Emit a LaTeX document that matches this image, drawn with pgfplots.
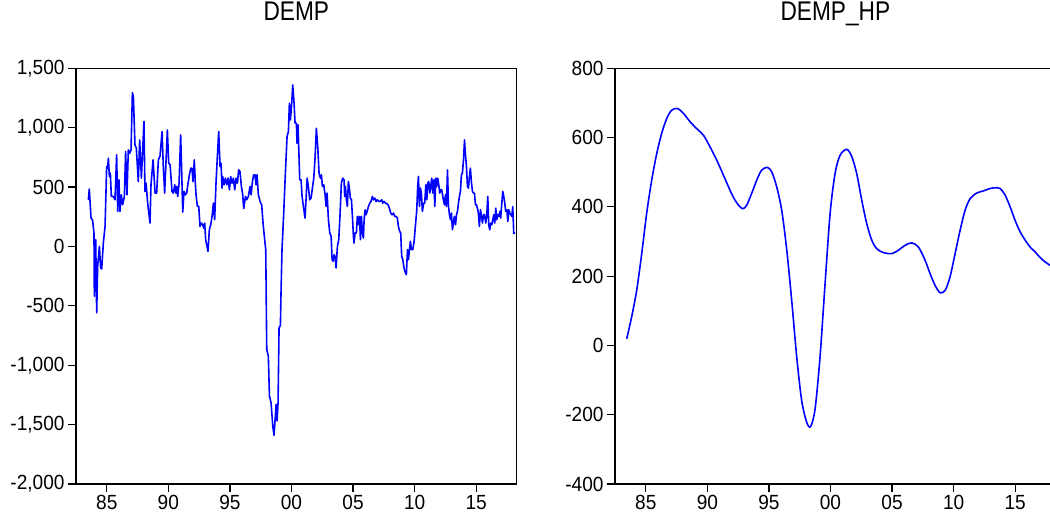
\documentclass[border=0pt]{standalone}
\usepackage{fontspec}
\setmainfont{Liberation Sans}
\newfontfamily\tickfont[FakeStretch=0.93]{Liberation Sans}
\newfontfamily\titlefont[FakeStretch=0.84]{Liberation Sans}
\usepackage{pgfplots}
\pgfplotsset{compat=1.18}
\usepackage{pgfplotstable}

\pgfplotstableread{
t v
1983.50 393
1983.58 483
1983.72 239
1983.85 220
1983.96 113
1983.99 -419
1984.10 57
1984.18 -559
1984.26 -167
1984.40 1
1984.50 -181
1984.59 -189
1984.72 29
1984.86 169
1984.99 673
1985.07 659
1985.13 743
1985.21 589
1985.29 617
1985.37 421
1985.53 421
1985.67 393
1985.80 771
1985.89 295
1985.99 561
1986.07 295
1986.18 435
1986.29 351
1986.43 421
1986.53 799
1986.64 435
1986.75 813
1986.86 785
1986.97 813
1987.08 1295
1987.16 1262
1987.29 855
1987.40 827
1987.56 547
1987.67 897
1987.81 575
1988.02 1052
1988.10 463
1988.19 533
1988.32 365
1988.51 197
1988.59 519
1988.76 729
1988.92 449
1989.05 449
1989.19 729
1989.32 760
1989.49 967
1989.59 673
1989.70 449
1989.92 981
1990.03 701
1990.14 687
1990.30 463
1990.41 449
1990.52 519
1990.62 449
1990.68 505
1990.76 421
1990.87 533
1991.00 939
1991.08 645
1991.17 290
1991.27 463
1991.38 435
1991.49 449
1991.60 533
1991.71 603
1991.82 659
1991.92 659
1992.00 547
1992.11 729
1992.19 533
1992.25 435
1992.36 337
1992.47 337
1992.57 169
1992.68 197
1992.79 183
1992.87 155
1992.95 197
1993.03 57
1993.22 -41
1993.33 141
1993.44 183
1993.55 253
1993.66 365
1993.76 225
1993.87 533
1993.98 757
1994.09 967
1994.20 673
1994.28 701
1994.36 491
1994.41 589
1994.52 519
1994.63 575
1994.74 519
1994.85 575
1994.96 477
1995.06 589
1995.17 533
1995.28 575
1995.39 477
1995.50 575
1995.61 533
1995.71 645
1995.82 631
1995.93 505
1996.04 435
1996.12 320
1996.26 421
1996.36 393
1996.50 421
1996.63 505
1996.72 435
1996.83 547
1996.93 603
1997.04 603
1997.12 519
1997.20 603
1997.31 435
1997.45 379
1997.58 351
1997.69 197
1997.85 29
1997.91 -27
1997.99 -867
1998.12 -923
1998.21 -1259
1998.34 -1315
1998.48 -1511
1998.58 -1590
1998.69 -1427
1998.75 -1329
1998.83 -1469
1998.91 -1315
1998.99 -685
1999.10 -665
1999.15 -391
1999.23 -27
1999.37 281
1999.48 561
1999.64 925
1999.75 967
1999.83 1206
1999.91 1066
2000.02 1206
2000.10 1360
2000.21 1206
2000.29 1038
2000.40 1038
2000.45 869
2000.53 1024
2000.62 729
2000.67 561
2000.78 561
2000.86 421
2000.97 337
2001.10 239
2001.18 393
2001.27 575
2001.37 505
2001.48 393
2001.59 407
2001.70 491
2001.81 575
2001.92 757
2002.02 995
2002.13 841
2002.24 617
2002.35 575
2002.43 603
2002.51 505
2002.62 519
2002.73 435
2002.81 337
2002.89 449
2003.00 225
2003.11 113
2003.22 85
2003.30 -111
2003.38 -125
2003.46 -69
2003.54 -83
2003.62 -181
2003.73 1
2003.84 57
2003.95 281
2004.05 533
2004.16 575
2004.27 561
2004.32 421
2004.38 505
2004.46 393
2004.54 337
2004.62 547
2004.70 491
2004.78 407
2004.87 393
2004.95 253
2005.03 85
2005.08 29
2005.16 113
2005.27 113
2005.35 253
2005.43 183
2005.52 253
2005.60 57
2005.68 253
2005.76 113
2005.84 71
2005.90 225
2005.98 309
2006.06 267
2006.14 295
2006.25 337
2006.36 365
2006.46 379
2006.57 421
2006.65 393
2006.76 407
2006.87 379
2006.98 393
2007.09 379
2007.20 379
2007.33 393
2007.41 365
2007.52 379
2007.63 365
2007.74 360
2007.84 351
2007.95 323
2008.06 281
2008.17 267
2008.28 281
2008.39 253
2008.49 253
2008.60 239
2008.68 169
2008.79 127
2008.87 113
2008.95 -83
2009.04 -111
2009.14 -181
2009.25 -223
2009.33 -237
2009.42 -27
2009.50 -111
2009.58 -27
2009.66 43
2009.74 -27
2009.85 -27
2009.96 43
2010.06 169
2010.17 300
2010.25 505
2010.31 589
2010.39 337
2010.47 491
2010.55 449
2010.63 295
2010.74 365
2010.82 365
2010.91 519
2010.99 393
2011.07 533
2011.15 547
2011.23 449
2011.31 505
2011.39 575
2011.47 449
2011.56 561
2011.64 337
2011.72 575
2011.80 505
2011.88 575
2011.96 519
2012.04 449
2012.12 477
2012.20 477
2012.31 407
2012.42 351
2012.50 435
2012.58 337
2012.67 645
2012.75 337
2012.83 267
2012.91 225
2012.99 281
2013.07 141
2013.15 197
2013.23 253
2013.32 183
2013.40 267
2013.48 295
2013.56 365
2013.64 421
2013.72 463
2013.80 603
2013.88 617
2013.97 729
2014.05 897
2014.13 771
2014.21 673
2014.29 505
2014.37 491
2014.45 589
2014.53 659
2014.62 533
2014.70 463
2014.78 449
2014.86 449
2014.94 351
2015.02 351
2015.10 323
2015.18 281
2015.26 169
2015.35 309
2015.43 253
2015.51 197
2015.59 267
2015.67 267
2015.78 197
2015.86 267
2015.94 421
2016.02 183
2016.10 141
2016.19 197
2016.27 183
2016.35 225
2016.43 267
2016.51 197
2016.59 323
2016.67 225
2016.75 267
2016.84 253
2016.92 295
2016.99 239
2017.08 365
2017.16 463
2017.24 421
2017.32 365
2017.40 295
2017.49 309
2017.57 211
2017.65 309
2017.73 281
2017.81 267
2017.89 253
2017.97 335
2018.05 110
2018.16 115
}\dempdata

\pgfplotstableread{
t v
1983.45 19
1983.85 82
1984.26 159
1984.67 265
1985.07 381
1985.48 477
1985.89 554
1986.29 612
1986.70 655
1987.10 679
1987.59 684
1988.05 670
1988.59 646
1989.13 626
1989.68 607
1990.22 573
1990.76 535
1991.30 492
1991.84 448
1992.25 419
1992.65 400
1992.92 395
1993.20 405
1993.60 439
1994.01 477
1994.41 506
1994.87 514
1995.23 501
1995.63 458
1996.04 390
1996.45 275
1996.85 130
1997.26 -34
1997.66 -159
1998.07 -222
1998.39 -234
1998.75 -183
1999.15 -34
1999.56 178
1999.97 381
2000.37 496
2000.78 549
2001.32 566
2001.73 545
2002.13 496
2002.54 419
2002.94 352
2003.35 304
2003.76 279
2004.30 268
2004.98 265
2005.52 275
2006.06 289
2006.60 296
2007.14 284
2007.68 246
2008.09 207
2008.50 173
2008.90 152
2009.31 159
2009.71 198
2010.12 265
2010.53 333
2010.93 390
2011.34 424
2011.88 440
2012.42 446
2012.96 453
2013.37 455
2013.77 453
2014.18 434
2014.59 400
2014.99 361
2015.40 328
2015.81 304
2016.21 284
2016.62 270
2016.99 255
2017.43 241
2017.84 231
2018.16 218
}\hpdata

\pgfplotsset{
  eviews/.style={
    scale only axis,
    width=440.7pt, height=415.7pt,
    xmin=1982.5, xmax=2018.29,
    axis line style={line width=1.4pt, black},
    tick align=outside,
    major tick length=8pt,
    tick style={line width=1.2pt, black},
    xtick={1985,1990,1995,2000,2005,2010,2015},
    xticklabels={85,90,95,00,05,10,15},
    xtick pos=bottom, ytick pos=left,
    minor tick num=0,
    ticklabel style={font=\tickfont\fontsize{20.5}{24}\selectfont},
    /pgf/number format/assume math mode=true,
    /pgf/number format/1000 sep={,},
    scaled y ticks=false,
    title style={at={(0.5,1)}, anchor=base, yshift=41.6pt,
      font=\titlefont\fontsize{27}{30}\selectfont},
  },
  evline/.style={color={rgb,255:red,0;green,0;blue,255}, line width=1.6pt, line join=round, mark=none},
}

\begin{document}
\begin{tikzpicture}
\begin{axis}[eviews, at={(76pt,40pt)}, anchor=south west,
  title={DEMP},
  ymin=-2000, ymax=1500, ytick={-2000,-1500,...,1500}]
\addplot[evline] table[x=t,y=v] {\dempdata};
\end{axis}
\begin{axis}[eviews, at={(615pt,40pt)}, anchor=south west,
  title={DEMP\_HP},
  ymin=-400, ymax=800, ytick={-400,-200,...,800}]
\addplot[evline, smooth] table[x=t,y=v] {\hpdata};
\end{axis}
\pgfresetboundingbox
\path[use as bounding box] (0,0) rectangle (1050pt,524pt);
\end{tikzpicture}
\end{document}
